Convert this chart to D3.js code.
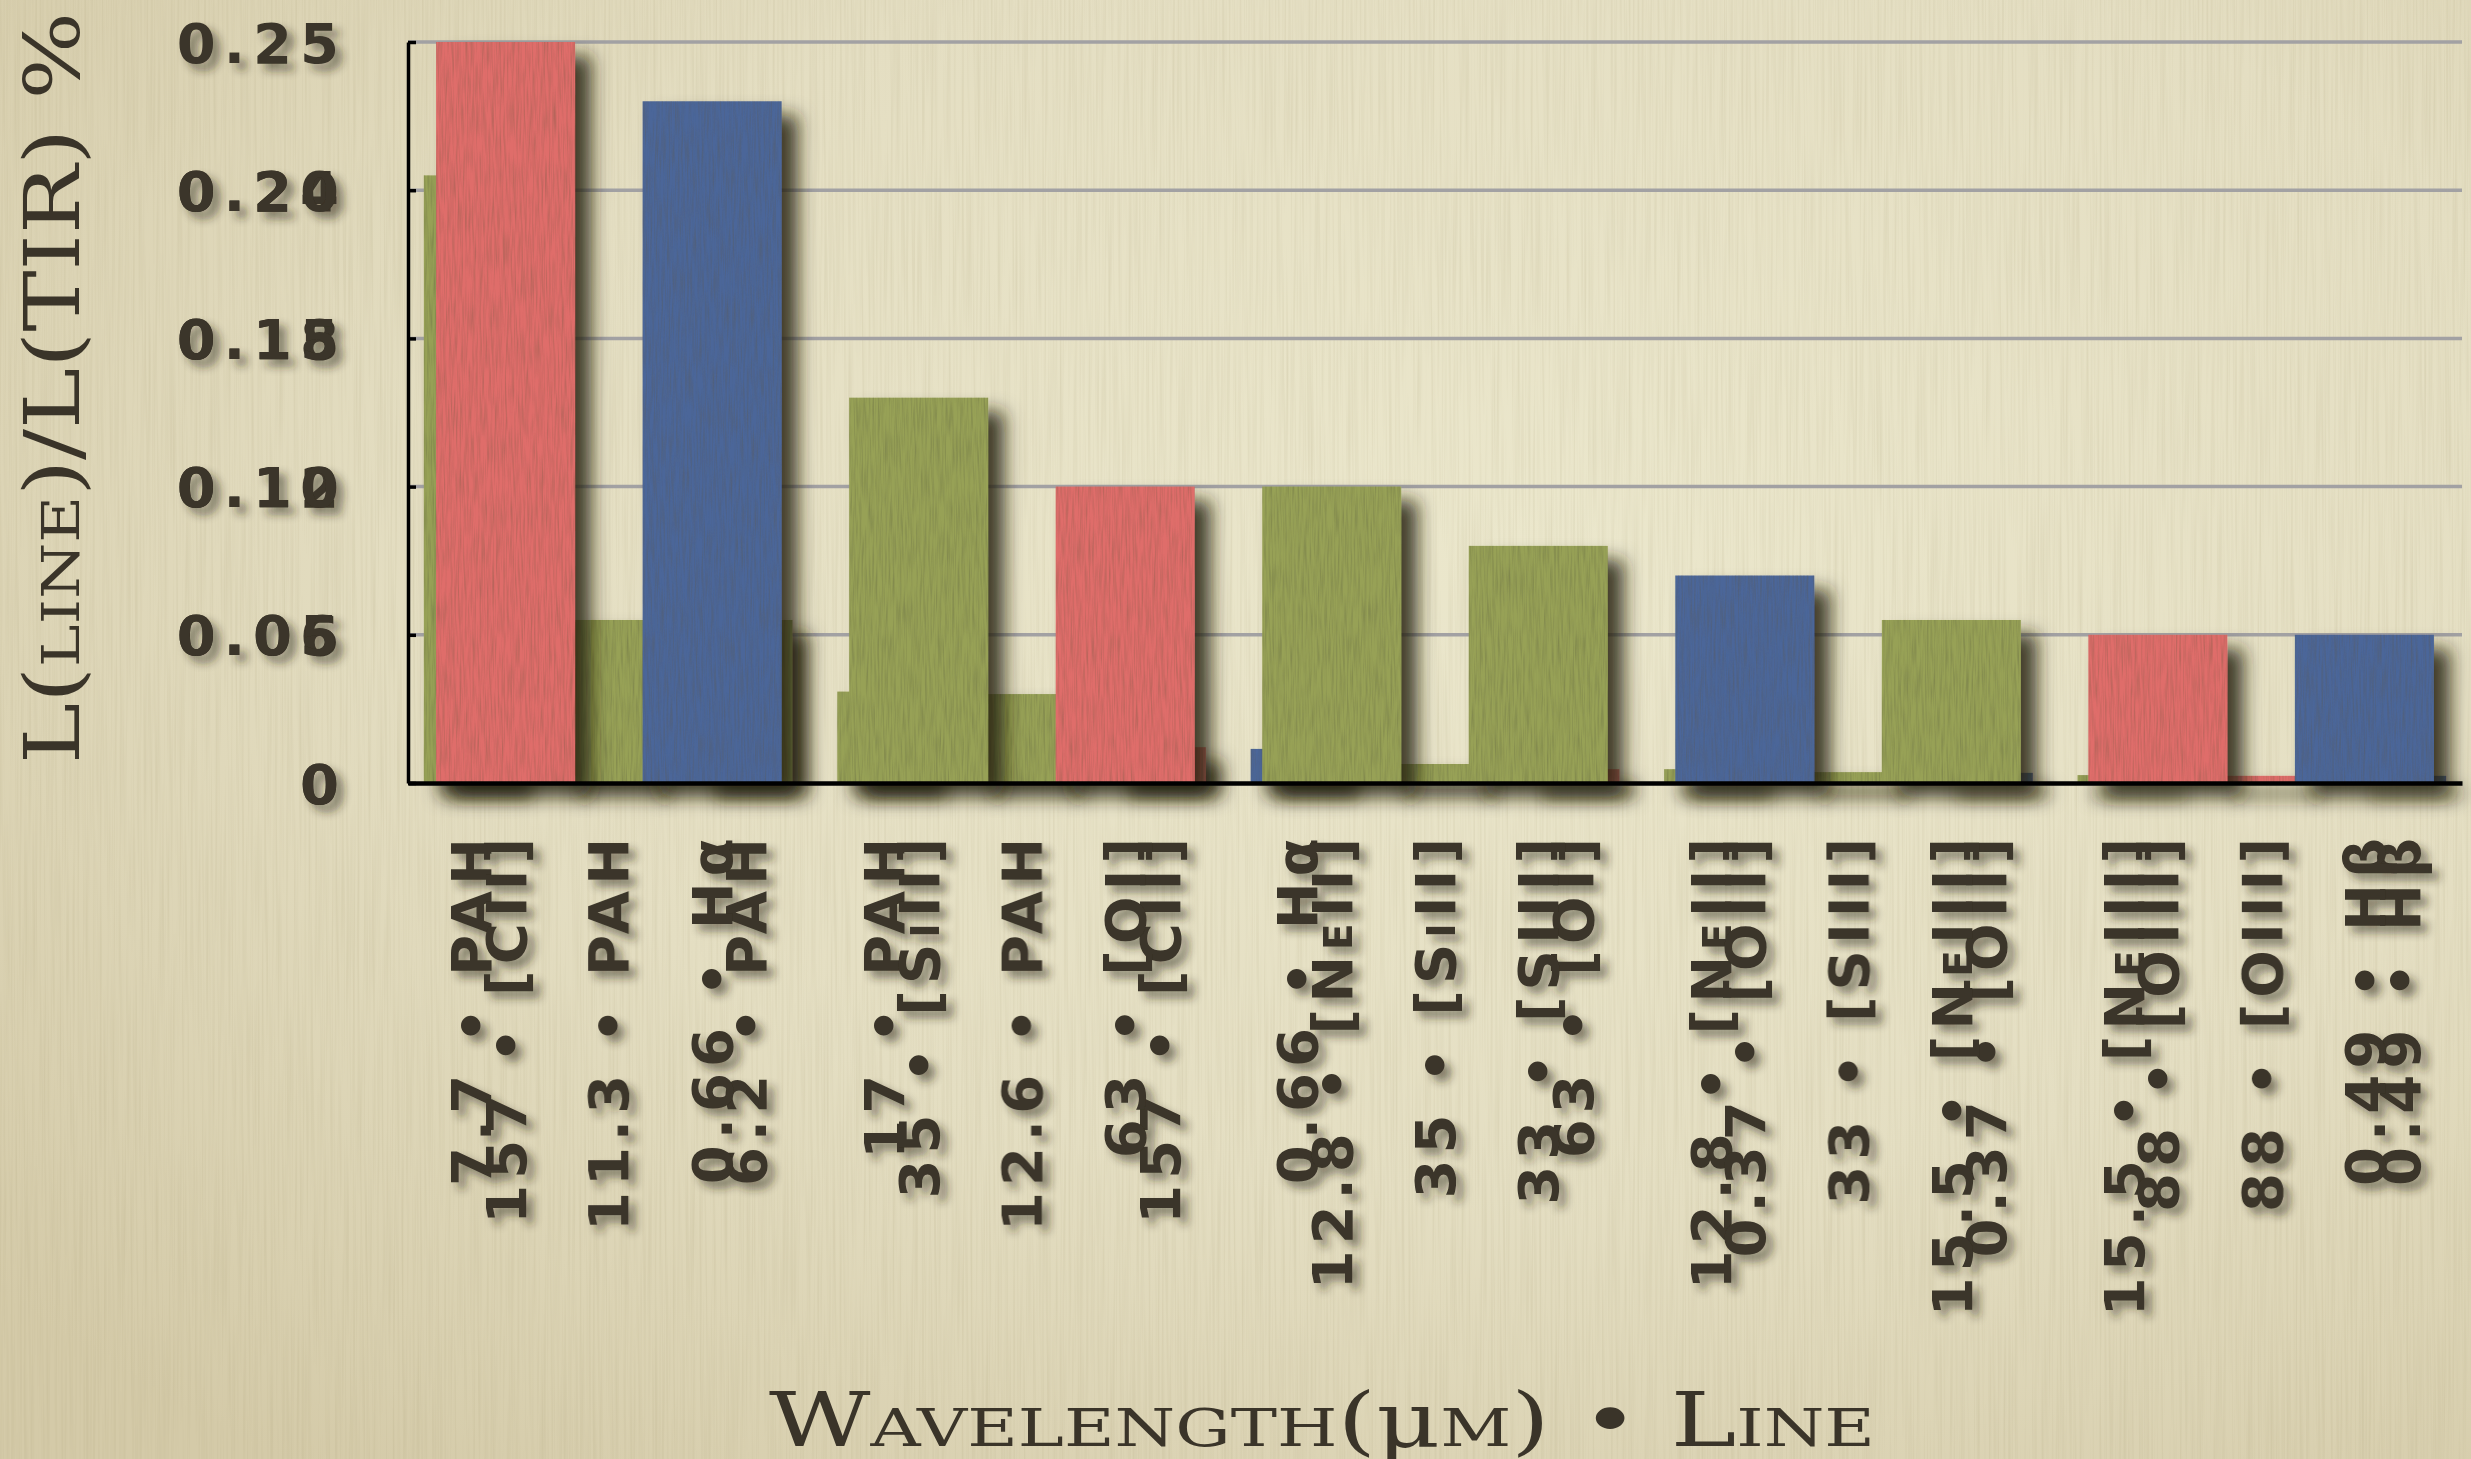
<!DOCTYPE html>
<html>
<head>
<meta charset="utf-8">
<script src="https://cdn.jsdelivr.net/npm/d3@7/dist/d3.min.js"></script>
<style>
  html, body { margin:0; padding:0; background:#e2dcbf; overflow:hidden; }
  svg { display:block; }
</style>
</head>
<body>
<svg id="chart" width="2471" height="1459"></svg>
<script>
// ---------------- data ----------------
const frontCategories = ["157 • [CII]","0.66 • Hα","35 • [SiII]","63 • [OI]","12.8 • [NeII]","33 • [SIII]","0.37 • [OII]","15.5 • [NeIII]","88 • [OIII]","0.49 • Hβ"];
const frontValues = [0.25,0.23,0.13,0.10,0.10,0.08,0.07,0.055,0.05,0.05];
const frontGroups = ["far","opt","mid","far","mid","mid","opt","mid","far","opt"];

const backCategories = ["7.7 • PAH","11.3 • PAH","6.2 • PAH","17 • PAH","12.6 • PAH","157 • [CII]","0.66 • Hα","35 • [SiII]","63 • [OI]","12.8 • [NeII]","33 • [SIII]","0.37 • [OII]","15.5 • [NeIII]","88 • [OIII]","0.49 • Hβ"];
const backValues = [0.246,0.066,0.066,0.037,0.036,0.0145,0.0138,0.0077,0.0056,0.0056,0.0044,0.0041,0.0032,0.0029,0.0029];
const backGroups = ["mid","mid","mid","mid","mid","far","opt","mid","far","mid","mid","opt","mid","far","opt"];

const frontTicks = [0,0.05,0.10,0.15,0.20,0.25];
const backTicks = [0,0.06,0.12,0.18,0.24];
const yTitle = "L(line)/L(TIR) %";
const xTitle = "Wavelength(μm) • Line";

const groupColors = {far:"#df6d6a", opt:"#4b6699", mid:"#97a157"};

// ---------------- layout ----------------
const W = 2471, H = 1459;
const plot = {left:408, right:2462, top:42, bottom:783};
const textColor = "#3a3429";
const labelFont = "'DejaVu Sans', sans-serif";
const titleFont = "'DejaVu Serif', serif";

const svg = d3.select("#chart");
const defs = svg.append("defs");

// background gradient
const bg = defs.append("radialGradient").attr("id","bgGrad")
  .attr("cx","62%").attr("cy","38%").attr("r","80%");
bg.append("stop").attr("offset","0%").attr("stop-color","#ebe7cc");
bg.append("stop").attr("offset","55%").attr("stop-color","#e4dec2");
bg.append("stop").attr("offset","100%").attr("stop-color","#d4caa8");

// paper streak texture
const paper = defs.append("filter").attr("id","paper").attr("x",0).attr("y",0).attr("width","100%").attr("height","100%");
paper.append("feTurbulence").attr("type","fractalNoise").attr("baseFrequency","0.45 0.006").attr("numOctaves",2).attr("seed",7).attr("result","n");
paper.append("feColorMatrix").attr("in","n").attr("type","matrix")
  .attr("values","0 0 0 0 0.35  0 0 0 0 0.3  0 0 0 0 0.15  0.32 0 0 0 -0.13");

// bar filter: drop shadow + woven texture
function barFilter(id){
  const f = defs.append("filter").attr("id",id)
    .attr("filterUnits","userSpaceOnUse").attr("x",0).attr("y",0).attr("width",W).attr("height",H);
  f.append("feGaussianBlur").attr("in","SourceAlpha").attr("stdDeviation",9).attr("result","blur");
  f.append("feOffset").attr("in","blur").attr("dx",16).attr("dy",14).attr("result","off");
  f.append("feFlood").attr("flood-color","#25220f").attr("flood-opacity",0.85).attr("result","fl");
  f.append("feComposite").attr("in","fl").attr("in2","off").attr("operator","in").attr("result","shadow");
  f.append("feTurbulence").attr("type","fractalNoise").attr("baseFrequency","0.55 0.03").attr("numOctaves",2).attr("seed",3).attr("result","noise");
  f.append("feColorMatrix").attr("in","noise").attr("type","matrix")
    .attr("values","0 0 0 0 0.1  0 0 0 0 0.1  0 0 0 0 0.05  0.8 0 0 0 -0.3").attr("result","streak");
  f.append("feComposite").attr("in","streak").attr("in2","SourceGraphic").attr("operator","in").attr("result","tex");
  const m = f.append("feMerge");
  m.append("feMergeNode").attr("in","shadow");
  m.append("feMergeNode").attr("in","SourceGraphic");
  m.append("feMergeNode").attr("in","tex");
}
barFilter("barBack");
barFilter("barFront");

// text shadow on an untransformed wrapper covering the whole canvas
const ts = defs.append("filter").attr("id","txtShadow")
  .attr("filterUnits","userSpaceOnUse").attr("x",0).attr("y",0).attr("width",W).attr("height",H);
ts.append("feGaussianBlur").attr("in","SourceAlpha").attr("stdDeviation",4).attr("result","b");
ts.append("feOffset").attr("in","b").attr("dx",7).attr("dy",7).attr("result","o");
ts.append("feFlood").attr("flood-color","#2b2619").attr("flood-opacity",0.5).attr("result","f");
ts.append("feComposite").attr("in","f").attr("in2","o").attr("operator","in").attr("result","s");
const tm = ts.append("feMerge");
tm.append("feMergeNode").attr("in","s");
tm.append("feMergeNode").attr("in","SourceGraphic");

// background
svg.append("rect").attr("width",W).attr("height",H).attr("fill","url(#bgGrad)");
svg.append("rect").attr("width",W).attr("height",H).attr("fill","#000").attr("filter","url(#paper)");

// ---------------- scales ----------------
const yFront = d3.scaleLinear().domain([0,0.25]).range([plot.bottom, plot.top]);
const yBack  = d3.scaleLinear().domain([0,0.30]).range([plot.bottom, plot.top]);
const xFront = d3.scaleBand().domain(frontCategories).range([plot.left, plot.right]).paddingInner(0.327).paddingOuter(0.136);
const xBack  = d3.scaleBand().domain(backCategories).range([plot.left, plot.right]).paddingInner(0.325).paddingOuter(0.115);
const fmt = d => d === 0 ? "0" : d3.format(".2f")(d);

// gridlines
svg.append("g").selectAll("line").data(frontTicks.filter(t => t > 0)).join("line")
  .attr("x1", plot.left).attr("x2", plot.right)
  .attr("y1", d => yFront(d)).attr("y2", d => yFront(d))
  .attr("stroke","#a2a1a3").attr("stroke-width",3.5);

// bars
const backData = backCategories.map((c,i) => ({c, v:backValues[i], g:backGroups[i]}));
const frontData = frontCategories.map((c,i) => ({c, v:frontValues[i], g:frontGroups[i]}));

svg.append("g").attr("filter","url(#barBack)")
  .selectAll("rect").data(backData).join("rect")
  .attr("x", d => xBack(d.c)).attr("width", xBack.bandwidth())
  .attr("y", d => yBack(d.v)).attr("height", d => yBack(0) - yBack(d.v))
  .attr("fill", d => groupColors[d.g]);

svg.append("g").attr("filter","url(#barFront)")
  .selectAll("rect").data(frontData).join("rect")
  .attr("x", d => xFront(d.c)).attr("width", xFront.bandwidth())
  .attr("y", d => yFront(d.v)).attr("height", d => yFront(0) - yFront(d.v))
  .attr("fill", d => groupColors[d.g]);

// ---------------- axis lines (no text) ----------------
const yLines = svg.append("g").attr("transform",`translate(${plot.left},0)`)
  .call(d3.axisLeft(yFront).tickValues(frontTicks).tickFormat("").tickSize(-8).tickSizeOuter(0));
yLines.select(".domain").attr("stroke","#000").attr("stroke-width",3.5);
yLines.selectAll(".tick line").attr("stroke","#000").attr("stroke-width",3.5);
yLines.selectAll(".tick text").remove();

const xLines = svg.append("g").attr("transform",`translate(0,${plot.bottom})`)
  .call(d3.axisBottom(xFront).tickFormat("").tickSize(0).tickSizeOuter(0));
xLines.select(".domain").attr("stroke","#000").attr("stroke-width",4.5);
xLines.selectAll(".tick").remove();

// rich text: keep Greek letters out of small-caps
function richText(textSel){
  textSel.each(function(){
    const el = d3.select(this);
    const str = el.text();
    el.text(null);
    str.split(/([α-ωμ]+)/).forEach(p => {
      if (!p) return;
      const t = el.append("tspan").text(p);
      if (/[α-ωμ]/.test(p)) t.style("font-variant","normal");
    });
  });
}

// ---------------- labels layer ----------------
const textLayer = svg.append("g").attr("filter","url(#txtShadow)");

function styleYAxis(g){
  g.attr("font-family", null).attr("font-size", null);
  g.select(".domain").remove();
  g.selectAll(".tick line").remove();
  g.selectAll("text")
    .style("font-family", labelFont).style("font-weight","bold")
    .style("font-size","56px").style("letter-spacing","8px")
    .attr("fill", textColor).attr("dy","0.36em");
}
styleYAxis(textLayer.append("g").attr("transform",`translate(${plot.left},0)`)
  .call(d3.axisLeft(yBack).tickValues(backTicks).tickFormat(fmt).tickSize(0).tickPadding(61)));
styleYAxis(textLayer.append("g").attr("transform",`translate(${plot.left},0)`)
  .call(d3.axisLeft(yFront).tickValues(frontTicks).tickFormat(fmt).tickSize(0).tickPadding(61)));

function styleXAxis(g){
  g.attr("font-family", null).attr("font-size", null);
  g.select(".domain").remove();
  g.selectAll(".tick line").remove();
  g.selectAll("text")
    .attr("transform","rotate(-90)")
    .attr("x", -49).attr("y", 0).attr("dy","0.36em")
    .style("text-anchor","end")
    .style("font-family", labelFont).style("font-weight","bold")
    .style("font-size","56px").style("letter-spacing","6px")
    .style("font-variant","small-caps")
    .attr("fill", textColor)
    .call(richText);
}
styleXAxis(textLayer.append("g").attr("transform",`translate(0,${plot.bottom})`)
  .call(d3.axisBottom(xBack).tickSize(0).tickPadding(0)));
styleXAxis(textLayer.append("g").attr("transform",`translate(0,${plot.bottom})`)
  .call(d3.axisBottom(xFront).tickSize(0).tickPadding(0)));

// ---------------- titles ----------------
const yT = svg.append("text")
  .attr("transform","translate(52,388) rotate(-90)")
  .attr("text-anchor","middle").attr("dy","0.36em")
  .attr("textLength",752).attr("lengthAdjust","spacingAndGlyphs")
  .style("font-family", titleFont).style("font-size","76px")
  .style("font-variant","small-caps").attr("fill", textColor)
  .text(yTitle);
richText(yT);

const xT = svg.append("text")
  .attr("x",1322).attr("y",1446)
  .attr("text-anchor","middle")
  .attr("textLength",1106).attr("lengthAdjust","spacingAndGlyphs")
  .style("font-family", titleFont).style("font-size","74px")
  .style("font-variant","small-caps").attr("fill", textColor)
  .text(xTitle);
richText(xT);
</script>
</body>
</html>
